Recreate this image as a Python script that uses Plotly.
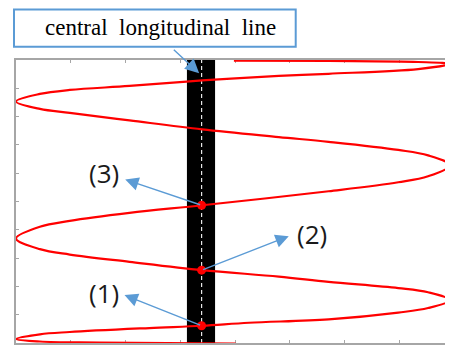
import plotly.graph_objects as go

# ---- data ----
x_range = [0, 7.927]
y_range = [0, 10]

curve_x = [3.98, 5.709, 7.345, 7.927,
           7.345, 5.709, 4.8, 3.4, 2.073, 0.982, 0.436, 0.0,
           0.436, 0.982, 2.073, 3.4, 4.8, 5.709, 6.982, 7.527, 7.927,
           7.527, 6.982, 5.709, 3.4, 2.073, 0.982, 0.436, 0.0,
           0.436, 0.982, 2.073, 3.4, 4.8, 5.709, 6.982, 7.527, 7.927,
           7.527, 6.982, 5.709, 4.255, 3.4, 2.436, 0.982, 0.436, 0.0,
           0.436, 1.527, 4.013]
curve_y = [9.98, 9.965, 9.93, 9.86,
           9.68, 9.513, 9.436, 9.277, 9.083, 8.942, 8.801, 8.536,
           8.272, 8.131, 7.866, 7.549, 7.277, 7.108, 6.822, 6.631, 6.279,
           5.891, 5.679, 5.362, 4.868, 4.596, 4.314, 4.106, 3.693,
           3.316, 3.125, 2.868, 2.575, 2.346, 2.162, 1.94, 1.792, 1.517,
           1.235, 1.076, 0.836, 0.716, 0.61, 0.529, 0.388, 0.307, 0.141,
           0.053, 0.018, -0.018]

center_x = 3.39
band_x = [3.122, 3.636]

dot_x = [3.39, 3.39, 3.39]
dot_y = [0.61, 2.575, 4.868]
dot_labels = ["(1)", "(2)", "(3)"]
label_x = [1.609, 5.405, 1.609]
label_y = [1.753, 3.838, 6.014]
tip_x = [1.982, 4.982, 1.995]
tip_y = [1.693, 3.774, 5.774]

title_text = "central\u00a0\u00a0longitudinal\u00a0\u00a0line"
title_tip = [3.345, 9.534]
title_tail = [2.855, 10.41]

BLUE = "#5B9BD5"
GRAY = "#a6a6a6"

fig = go.Figure()

# black band
fig.add_trace(go.Scatter(
    x=[band_x[0], band_x[1], band_x[1], band_x[0], band_x[0]],
    y=[y_range[0], y_range[0], y_range[1], y_range[1], y_range[0]],
    mode="lines", fill="toself", fillcolor="black",
    line=dict(color="black", width=0), hoverinfo="skip"))
# dashed centre line
fig.add_trace(go.Scatter(
    x=[center_x, center_x], y=y_range, mode="lines",
    line=dict(color="#e6e6e6", width=1.2, dash="4px,3px"), hoverinfo="skip"))
# red curve
fig.add_trace(go.Scatter(
    x=curve_x, y=curve_y, mode="lines",
    line=dict(color="#ff0000", width=2.2, shape="spline", smoothing=1.0)))
# dots
fig.add_trace(go.Scatter(
    x=dot_x, y=dot_y, mode="markers",
    marker=dict(color="#ff0000", size=9)))

axis_common = dict(showline=True, linecolor=GRAY, linewidth=1.5, mirror="ticks",
                   ticks="inside", ticklen=3, tickcolor=GRAY, tickwidth=1,
                   showticklabels=False, showgrid=False, zeroline=False,
                   dtick=1, tick0=0, layer="below traces")
fig.update_xaxes(range=x_range, **axis_common)
fig.update_yaxes(range=y_range, **axis_common)

# label arrows
for lx, ly, tx, ty, dx, dy, txt in zip(label_x, label_y, tip_x, tip_y, dot_x, dot_y, dot_labels):
    fig.add_annotation(x=tx, y=ty, ax=dx, ay=dy, xref="x", yref="y", axref="x", ayref="y",
                       text="", showarrow=True, arrowhead=2, arrowsize=1.9, arrowwidth=1.4,
                       arrowcolor=BLUE, standoff=0, startstandoff=0)
    fig.add_annotation(x=lx, y=ly, xref="x", yref="y", text=txt, showarrow=False,
                       xanchor="center", yanchor="middle",
                       font=dict(family="Open Sans", size=26, color="#1a1a1a"))

# title box
fig.add_shape(type="rect", xref="paper", yref="paper",
              x0=-0.0046, x1=0.6445, y0=1.047, y1=1.1784,
              line=dict(color=BLUE, width=2), fillcolor="white", layer="above")
fig.add_annotation(x=0.3326, y=1.1166, xref="paper", yref="paper", text=title_text,
                   showarrow=False, xanchor="center", yanchor="middle",
                   font=dict(family="Liberation Serif", size=23, color="black"))
fig.add_annotation(x=title_tip[0], y=title_tip[1], ax=title_tail[0], ay=title_tail[1],
                   xref="x", yref="y", axref="x", ayref="y", text="", showarrow=True,
                   arrowhead=2, arrowsize=2.0, arrowwidth=1.4, arrowcolor=BLUE,
                   standoff=0, startstandoff=0)

# page body has an 8px margin, so shrink the figure by that amount
fig.update_layout(width=445, height=341, margin=dict(l=8, r=1, t=52, b=6),
                  paper_bgcolor="white", plot_bgcolor="white", showlegend=False)

fig.write_html("out.html")
